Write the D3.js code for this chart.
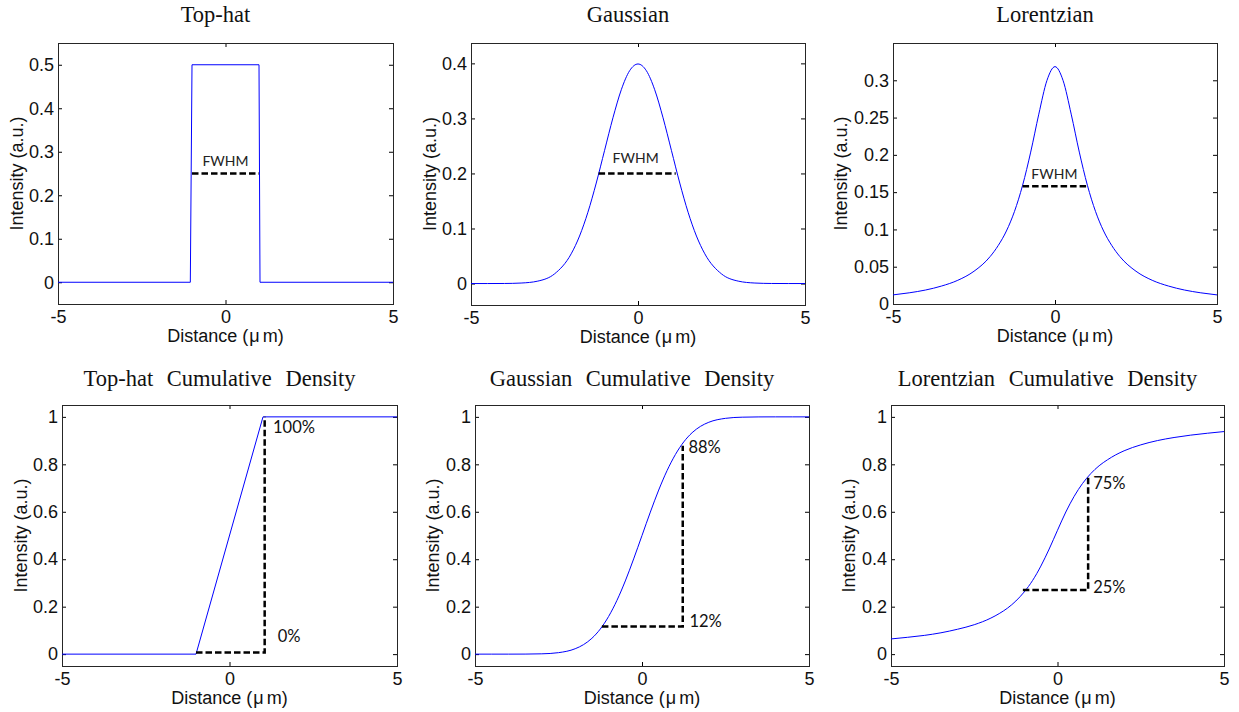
<!DOCTYPE html>
<html>
<head>
<meta charset="utf-8">
<script src="https://cdn.jsdelivr.net/npm/d3@7"></script>
<style>
  body { margin: 0; background: #fff; }
  svg { display: block; }
</style>
</head>
<body>
<div id="chart"></div>
<script>
// x samples (µm) shared by the smooth curves
const xSmooth = [-5, -4.5, -4, -3.5, -3, -2.5,
  -2, -1.75, -1.5, -1.25, -1, -0.75, -0.5, -0.25, 0, 0.25, 0.5, 0.75, 1, 1.25, 1.5, 1.75, 2,
  2.5, 3, 3.5, 4, 4.5, 5];

const gaussPdf = [0, 0, 0.0001, 0.0009, 0.0044, 0.0175,
  0.054, 0.0863, 0.1295, 0.1826, 0.242, 0.3011, 0.3521, 0.3867, 0.3989, 0.3867, 0.3521, 0.3011, 0.242, 0.1826, 0.1295, 0.0863, 0.054,
  0.0175, 0.0044, 0.0009, 0.0001, 0, 0];
const lorentzPdf = [0.0122, 0.015, 0.0187, 0.0241, 0.0318, 0.0439,
  0.0637, 0.0786, 0.0979, 0.1242, 0.1592, 0.2037, 0.2546, 0.2996, 0.3183, 0.2996, 0.2546, 0.2037, 0.1592, 0.1242, 0.0979, 0.0786, 0.0637,
  0.0439, 0.0318, 0.0241, 0.0187, 0.015, 0.0122];
const gaussCdf = [0, 0, 0, 0.0002, 0.0013, 0.0062,
  0.0228, 0.0401, 0.0668, 0.1056, 0.1587, 0.2266, 0.3085, 0.4013, 0.5, 0.5987, 0.6915, 0.7734, 0.8413, 0.8944, 0.9332, 0.9599, 0.9772,
  0.9938, 0.9987, 0.9998, 1, 1, 1];
const lorentzCdf = [0.064, 0.071, 0.079, 0.090, 0.105, 0.124,
  0.152, 0.171, 0.194, 0.224, 0.262, 0.310, 0.371, 0.443, 0.522, 0.599, 0.665, 0.719, 0.761, 0.794, 0.819, 0.840, 0.857,
  0.882, 0.900, 0.913, 0.923, 0.931, 0.938];

// top-hat (piecewise linear)
const topHatX   = [-5, -1.05, -1, 1, 1.03, 5];
const topHatPdf = [0, 0, 0.5, 0.5, 0, 0];
const topHatCdfX = [-5, -1, 1, 5];
const topHatCdf  = [0, 0, 1, 1];

const titles = ["Top-hat", "Gaussian", "Lorentzian",
  "Top-hat Cumulative Density", "Gaussian Cumulative Density", "Lorentzian Cumulative Density"];
const xTickValues = [-5, 0, 5];
const yDomains = [[-0.05, 0.55], [-0.039, 0.437], [0, 0.35], [-0.05, 1.05], [-0.05, 1.05], [-0.05, 1.05]];
const yTickValues = [
  [0, 0.1, 0.2, 0.3, 0.4, 0.5],
  [0, 0.1, 0.2, 0.3, 0.4],
  [0, 0.05, 0.1, 0.15, 0.2, 0.25, 0.3],
  [0, 0.2, 0.4, 0.6, 0.8, 1],
  [0, 0.2, 0.4, 0.6, 0.8, 1],
  [0, 0.2, 0.4, 0.6, 0.8, 1]
];

// FWHM markers on the profiles: [x1, x2, y] and label [x, y]
const fwhmLines = [[-1, 1, 0.25], [-1.18, 1.13, 0.2], [-1, 1.04, 0.158]];
const fwhmLabels = [[0, 0.267], [-0.07, 0.2185], [-0.02, 0.168]];

// cumulative markers: corner path points and percent labels
const cdfMarks = [
  [[-1, 0.007], [1.05, 0.007], [1.05, 1]],
  [[-1.2, 0.116], [1.22, 0.116], [1.22, 0.878]],
  [[-1.04, 0.27], [0.92, 0.27], [0.92, 0.745]]
];
const cdfLabels = [
  [["100%", 1.30, 0.933], ["0%", 1.44, 0.05]],
  [["88%", 1.39, 0.848], ["12%", 1.42, 0.116]],
  [["75%", 1.07, 0.697], ["25%", 1.07, 0.256]]
];

// plot frames in page pixels [left, top, right, bottom]
const frames = [
  [58, 43, 393, 304], [471, 43, 805, 305], [893, 43, 1217, 304],
  [62, 405, 397, 666], [475, 405, 809, 666], [891, 405, 1224, 666]
];
const yLabelGap = [41, 41, 52, 41, 42, 42];

const series = [
  { x: topHatX, y: topHatPdf, curve: d3.curveLinear },
  { x: xSmooth, y: gaussPdf, curve: d3.curveMonotoneX },
  { x: xSmooth, y: lorentzPdf, curve: d3.curveMonotoneX },
  { x: topHatCdfX, y: topHatCdf, curve: d3.curveLinear },
  { x: xSmooth, y: gaussCdf, curve: d3.curveMonotoneX },
  { x: xSmooth, y: lorentzCdf, curve: d3.curveMonotoneX }
];

const W = 1239, H = 712;
const axisFont = "'Liberation Sans', Arial, sans-serif";
const noteFont = "Lato, 'Open Sans', sans-serif";

const svg = d3.select("#chart").append("svg")
  .attr("width", W).attr("height", H);

frames.forEach((f, i) => {
  const [l, t, r, b] = f;
  const xScale = d3.scaleLinear().domain([-5, 5]).range([l, r]);
  const yScale = d3.scaleLinear().domain(yDomains[i]).range([b, t]);
  const g = svg.append("g");

  // inward ticks on all four sides, labels only bottom/left
  const fmt = d => String(d);
  const bottom = g.append("g").attr("transform", `translate(0,${b})`)
    .call(d3.axisBottom(xScale).tickValues(xTickValues).tickSize(-4).tickPadding(6).tickFormat(fmt));
  const top = g.append("g").attr("transform", `translate(0,${t})`)
    .call(d3.axisTop(xScale).tickValues(xTickValues).tickSize(-4).tickFormat(""));
  const left = g.append("g").attr("transform", `translate(${l},0)`)
    .call(d3.axisLeft(yScale).tickValues(yTickValues[i]).tickSize(-4).tickPadding(4).tickFormat(fmt));
  const right = g.append("g").attr("transform", `translate(${r},0)`)
    .call(d3.axisRight(yScale).tickValues(yTickValues[i]).tickSize(-4).tickFormat(""));

  [bottom, top, left, right].forEach(a => {
    a.select(".domain").remove();
    a.selectAll(".tick line").attr("stroke", "#000");
    a.selectAll("text").attr("font-family", axisFont).attr("font-size", 18).attr("fill", "#111");
  });

  // frame
  g.append("rect")
    .attr("x", l + 0.5).attr("y", t + 0.5)
    .attr("width", r - l).attr("height", b - t)
    .attr("fill", "none").attr("stroke", "#262626").attr("stroke-width", 1);

  // curve
  const s = series[i];
  const pts = s.x.map((x, k) => [x, s.y[k]]);
  g.append("path")
    .attr("d", d3.line().x(d => xScale(d[0])).y(d => yScale(d[1])).curve(s.curve)(pts))
    .attr("fill", "none").attr("stroke", "#0000ff").attr("stroke-width", 1);

  // annotations
  if (i < 3) {
    const [x1, x2, y] = fwhmLines[i];
    g.append("line")
      .attr("x1", xScale(x1)).attr("x2", xScale(x2))
      .attr("y1", yScale(y)).attr("y2", yScale(y))
      .attr("stroke", "#000").attr("stroke-width", 2.5).attr("stroke-dasharray", "6.5,3");
    g.append("text")
      .attr("x", xScale(fwhmLabels[i][0])).attr("y", yScale(fwhmLabels[i][1]))
      .attr("text-anchor", "middle")
      .attr("font-family", noteFont).attr("font-size", 14).attr("fill", "#222")
      .text("FWHM");
  } else {
    const k = i - 3;
    g.append("path")
      .attr("d", d3.line().x(d => xScale(d[0])).y(d => yScale(d[1]))(cdfMarks[k]))
      .attr("fill", "none").attr("stroke", "#000").attr("stroke-width", 2.5).attr("stroke-dasharray", "6.5,3");
    cdfLabels[k].forEach(([txt, x, y]) => {
      g.append("text")
        .attr("x", xScale(x)).attr("y", yScale(y))
        .attr("font-family", noteFont).attr("font-size", 16.5).attr("fill", "#111")
        .text(txt);
    });
  }

  // title
  g.append("text")
    .attr("x", (l + r) / 2 - 10)
    .attr("y", i < 3 ? 21.7 : 385.7)
    .attr("text-anchor", "middle")
    .attr("font-family", "'Liberation Serif', 'Times New Roman', serif")
    .attr("font-size", 22.5)
    .attr("word-spacing", i < 3 ? 0 : 8)
    .attr("fill", "#111")
    .text(titles[i]);

  // axis labels
  const xl = g.append("text")
    .attr("x", (l + r) / 2).attr("y", b + 38)
    .attr("text-anchor", "middle")
    .attr("font-family", axisFont).attr("font-size", 18).attr("fill", "#111");
  xl.append("tspan").text("Distance (");
  xl.append("tspan").attr("dx", 1).text("\u03bc");
  xl.append("tspan").attr("dx", 3).text("m)");
  g.append("text")
    .attr("transform", `translate(${l - yLabelGap[i]},${(t + b) / 2}) rotate(-90)`)
    .attr("dy", "0.35em")
    .attr("text-anchor", "middle")
    .attr("font-family", axisFont).attr("font-size", 18).attr("fill", "#111")
    .text("Intensity (a.u.)");
});
</script>
</body>
</html>
